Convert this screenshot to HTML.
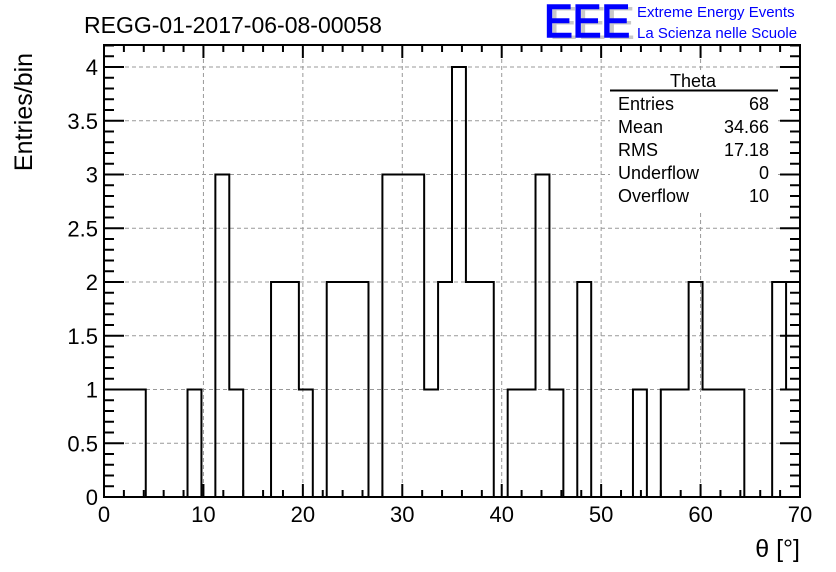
<!DOCTYPE html>
<html><head><meta charset="utf-8"><style>
body{margin:0;background:#fff;}
svg{display:block;font-family:"Liberation Sans",sans-serif;}
</style></head><body>
<svg id="c" width="836" height="572">
<g id="grid"></g>
<g id="hist"></g>
<g id="axes"></g>
<text x="84" y="33" font-size="23">REGG-01-2017-06-08-00058</text>
<g>
<text x="549" y="39" font-size="46" fill="#c8c8c8" textLength="86" lengthAdjust="spacingAndGlyphs">EEE</text>
<text x="544" y="37" font-size="46" fill="#0000ff" stroke="#0000ff" stroke-width="1.5" textLength="86" lengthAdjust="spacingAndGlyphs">EEE</text>
<text x="637" y="17" font-size="15" fill="#0000ff">Extreme Energy Events</text>
<text x="637" y="38" font-size="15" fill="#0000ff">La Scienza nelle Scuole</text>
</g>
<g font-size="18">
<rect x="610" y="70" width="168" height="140" fill="#fff"/>
<text x="693" y="87" text-anchor="middle">Theta</text>
<line x1="610" y1="90.5" x2="778" y2="90.5" stroke="#000" stroke-width="2"/>
<text x="618" y="110">Entries</text><text x="769" y="110" text-anchor="end">68</text>
<text x="618" y="133">Mean</text><text x="769" y="133" text-anchor="end">34.66</text>
<text x="618" y="156">RMS</text><text x="769" y="156" text-anchor="end">17.18</text>
<text x="618" y="179">Underflow</text><text x="769" y="179" text-anchor="end">0</text>
<text x="618" y="202">Overflow</text><text x="769" y="202" text-anchor="end">10</text>
</g>
<text transform="translate(32,112) rotate(-90)" text-anchor="middle" font-size="25">Entries/bin</text>
<text x="800" y="557" text-anchor="end" font-size="25">θ [°]</text>
</svg>
<script>
const binCounts=[1,1,1,0,0,0,1,0,3,1,0,0,2,2,1,0,2,2,2,0,3,3,3,1,2,4,2,2,0,1,1,3,1,0,2,0,0,0,1,0,1,1,2,1,1,1,0,0,2,1];
const xRange=[0,70];
const yRange=[0,4.2];
const xTicks=[0,10,20,30,40,50,60,70];
const yTicks=[0,0.5,1,1.5,2,2.5,3,3.5,4];
const yTickLabels=["0","0.5","1","1.5","2","2.5","3","3.5","4"];
const L=104,R=800,T=45,B=497;
const X=v=>L+(v-xRange[0])/(xRange[1]-xRange[0])*(R-L);
const Y=v=>B-(v-yRange[0])/4*(B-67);
const NS="http://www.w3.org/2000/svg";
function mk(parent,tag,attrs){const e=document.createElementNS(NS,tag);for(const k in attrs)e.setAttribute(k,attrs[k]);parent.appendChild(e);return e;}
const grid=document.getElementById('grid'),hist=document.getElementById('hist'),axes=document.getElementById('axes');
xTicks.forEach(t=>{if(t>xRange[0]&&t<xRange[1]){const l=mk(grid,'line',{x1:X(t),x2:X(t),y1:T,y2:B,stroke:'#999','stroke-dasharray':'4,3'});

}});
yTicks.forEach(t=>{if(t>0){const l=mk(grid,'line',{x1:L,x2:R,y1:Y(t),y2:Y(t),stroke:'#999','stroke-dasharray':'4,3'});

}});
const bw=(xRange[1]-xRange[0])/binCounts.length;
let d=`M${X(0)},${Y(0)}`;
binCounts.forEach((c,i)=>{d+=` L${X(i*bw)},${Y(c)} L${X((i+1)*bw)},${Y(c)}`;});
d+=` L${X(xRange[1])},${Y(0)}`;
const p=mk(hist,'path',{d:d,fill:'none',stroke:'#000','stroke-width':2});


const fr=mk(axes,'rect',{x:L,y:T,width:R-L,height:B-T,fill:'none',stroke:'#000','stroke-width':2});


for(let v=0;v<=70;v+=2){const maj=v%10===0;const len=maj?13:7;
mk(axes,'line',{x1:X(v),x2:X(v),y1:B,y2:B-len,stroke:'#000','stroke-width':2});
mk(axes,'line',{x1:X(v),x2:X(v),y1:T,y2:T+len,stroke:'#000','stroke-width':2});}
xTicks.forEach(t=>{const tx=mk(axes,'text',{x:X(t),y:B+25,'text-anchor':'middle','font-size':22});tx.textContent=t;

});
for(let k=0;k<=42;k++){const v=k/10;const maj=k%5===0;const len=maj?20:10;
mk(axes,'line',{x1:L,x2:L+len,y1:Y(v),y2:Y(v),stroke:'#000','stroke-width':2});
mk(axes,'line',{x1:R,x2:R-len,y1:Y(v),y2:Y(v),stroke:'#000','stroke-width':2});}
yTicks.forEach((t,i)=>{const tx=mk(axes,'text',{x:L-6,y:Y(t)+8,'text-anchor':'end','font-size':22});tx.textContent=yTickLabels[i];

});
</script>
</body></html>
